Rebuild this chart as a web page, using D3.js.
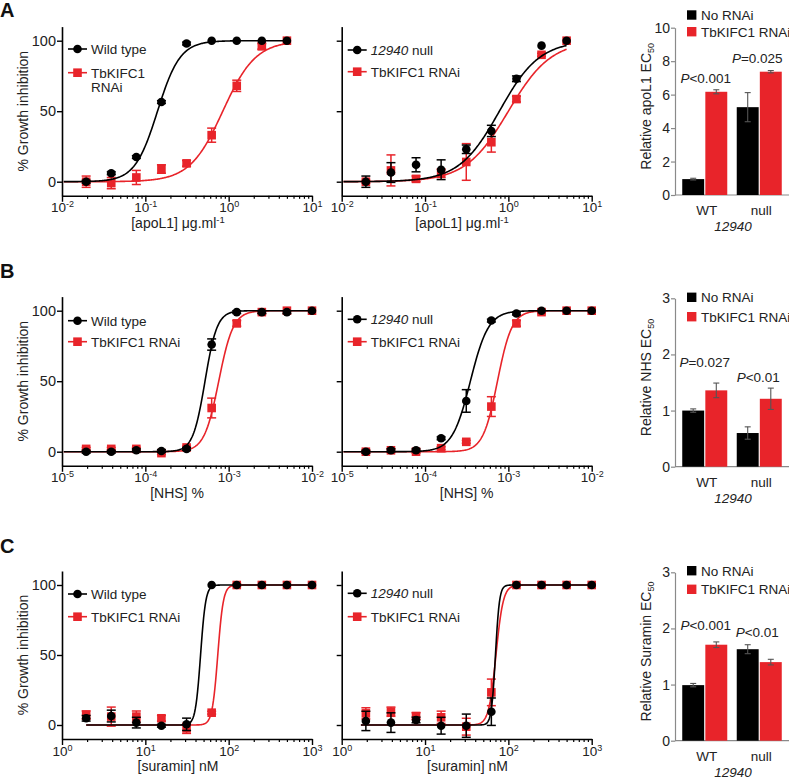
<!DOCTYPE html>
<html>
<head>
<meta charset="utf-8">
<script src="https://cdn.jsdelivr.net/npm/d3@7"></script>
<style>
  html, body { margin: 0; padding: 0; background: #fff; }
  svg { display: block; }
  text { font-family: "Liberation Sans", Arial, sans-serif; }
</style>
</head>
<body>
<svg id="fig" width="789" height="783"></svg>
<script>
// ---------------- DATA ----------------
// Row A: apoL1 (µg/ml)
const concA = [0.0195, 0.039, 0.078, 0.156, 0.3125, 0.625, 1.25, 2.5, 5];
const aWT        = [0, 6, 17.5, 56.5, 98, 100, 100, 100, 100];
const aWTErr     = [1, 1, 1, 1, 1, 0, 0, 0, 0];
const aWTRNAi    = [0, -1, 3, 9, 13, 33, 68, 96, 100];
const aWTRNAiErr = [4, 4, 5, 3, 2, 5, 4, 2, 0];
const aNull        = [0, 6.5, 12, 8.5, 23, 36, 73, 96.5, 100];
const aNullErr     = [4, 7, 5, 7, 3, 4, 2, 0, 0];
const aNullRNAi    = [0, 8, 2, 6, 14, 28, 58.6, 90, 100];
const aNullRNAiErr = [1, 11, 2, 3, 13, 7, 2, 1, 0];
// fits [EC50, Hill]
const aFitWT = [0.14, 3.2], aFitWTRNAi = [0.85, 2.2], aFitNull = [0.78, 1.8], aFitNullRNAi = [1.0, 1.7];
const aTicks = ["-2", "-1", "0", "1"];

// Row B: NHS (%)
const concB = [1.95e-5, 3.9e-5, 7.8e-5, 1.56e-4, 3.125e-4, 6.25e-4, 1.25e-3, 2.5e-3, 5e-3, 1e-2];
const bWT        = [0, 0, 1, 0.5, 2, 76, 99, 99, 99, 100];
const bWTErr     = [1, 1, 1, 1, 1, 4, 1, 1, 1, 0];
const bWTRNAi    = [2, 2, 2, -1, 3, 31, 91, 99, 100, 100];
const bWTRNAiErr = [1, 1, 1, 1, 1, 7, 2, 1, 0, 0];
const bNull        = [0, 1, 1, 9.5, 36, 93, 98, 100, 100, 100];
const bNullErr     = [1, 1, 1, 1, 8, 1, 1, 0, 0, 0];
const bNullRNAi    = [0, 1, 0, 2.5, 7, 32, 91, 99, 100, 100];
const bNullRNAiErr = [1, 1, 1, 1, 1, 7, 2, 1, 0, 0];
const bFitWT = [5.2e-4, 6], bFitWTRNAi = [7.6e-4, 5], bFitNull = [3.5e-4, 4], bFitNullRNAi = [7.4e-4, 5];
const bTicks = ["-5", "-4", "-3", "-2"];

// Row C: suramin (nM)
const concC = [1.95, 3.9, 7.8, 15.6, 31.25, 62.5, 125, 250, 500, 1000];
const cWT        = [4.8, 6.4, 1.7, -0.5, 0.5, 100, 100, 100, 100, 100];
const cWTErr     = [2, 4.2, 3.8, 1, 4.4, 0, 0, 0, 0, 0];
const cWTRNAi    = [7.1, 6, 6, 4.8, -2.4, 8.8, 100, 100, 100, 100];
const cWTRNAiErr = [3, 6.8, 4, 2, 3.6, 1, 1, 0, 0, 0];
const cNull        = [2.9, 1.7, 3.6, -0.5, -0.5, 9.5, 100, 100, 100, 100];
const cNullErr     = [6.9, 7, 2, 6, 8.3, 9.8, 0, 0, 0, 0];
const cNullRNAi    = [8.3, 9.5, 6.4, 5.5, -1.2, 23.3, 100, 100, 100, 100];
const cNullRNAiErr = [4, 3.3, 2.4, 4.4, 6, 9.5, 0, 0, 0, 0];
const cFitWT = [46, 14], cFitWTRNAi = [74, 13], cFitNull = [70, 18], cFitNullRNAi = [71, 10];
const cTicks = ["0", "1", "2", "3"];

// Bar charts: relative EC50
const barGroups = ["WT", "null"];
const aBarNo = [0.95, 5.25], aBarNoErr = [0.05, 0.87], aBarRNAi = [6.17, 7.37], aBarRNAiErr = [0.12, 0.07];
const bBarNo = [1.0, 0.6],   bBarNoErr = [0.03, 0.11], bBarRNAi = [1.36, 1.21], bBarRNAiErr = [0.13, 0.19];
const cBarNo = [0.99, 1.63], cBarNoErr = [0.03, 0.08], cBarRNAi = [1.71, 1.40], cBarRNAiErr = [0.05, 0.05];
const aP = [["<0.001"], ["=0.025"]];
const bP = [["=0.027"], ["<0.01"]];
const cP = [["<0.001"], ["<0.01"]];

// ---------------- STYLE ----------------
const RED = "#e8242a";
const BLACK = "#000";
const svg = d3.select("#fig");
svg.append("rect").attr("width", 789).attr("height", 783).attr("fill", "#fff");

function hill(x, p) { return 100 / (1 + Math.pow(p[0] / x, p[1])); }

function curvePanel(cfg) {
  const g = svg.append("g");
  const x = d3.scaleLog().domain([Math.pow(10, cfg.d0), Math.pow(10, cfg.d0 + 3)]).range([cfg.x0, cfg.x0 + 250]);
  const y = d3.scaleLinear().domain([-10, 110]).range([cfg.yb, cfg.yb - 120 * cfg.k]);
  const yAxisBottom = y(-10);

  // minor ticks
  const minors = [];
  for (let d = cfg.d0; d < cfg.d0 + 3; d++) for (let m = 2; m <= 9; m++) minors.push(m * Math.pow(10, d));
  const gMinor = g.append("g").attr("transform", `translate(0,${yAxisBottom})`)
    .call(d3.axisBottom(x).tickValues(minors).tickSize(3).tickSizeOuter(0).tickFormat(""));
  gMinor.select(".domain").remove();
  gMinor.selectAll("line").attr("stroke", "#000").attr("stroke-width", 1.2);
  const majors = d3.range(cfg.d0, cfg.d0 + 4).map(d => Math.pow(10, d));
  const gMajor = g.append("g").attr("transform", `translate(0,${yAxisBottom})`)
    .call(d3.axisBottom(x).tickValues(majors).tickSize(6).tickSizeOuter(0).tickFormat(""));
  gMajor.select(".domain").attr("stroke", "#000").attr("stroke-width", 1.6);
  gMajor.selectAll("line").attr("stroke", "#000").attr("stroke-width", 1.4);
  gMajor.selectAll(".tick").each(function (d, i) {
    const t = d3.select(this).append("text").attr("y", 16.5).attr("fill", "#222")
      .attr("text-anchor", "middle").attr("font-size", 13.5).text("10");
    t.append("tspan").attr("dy", -5).attr("font-size", 9).text(cfg.ticks[i]);
  });

  const gY = g.append("g").attr("transform", `translate(${cfg.x0},0)`)
    .call(d3.axisLeft(y).tickValues([0, 50, 100]).tickSize(5).tickSizeOuter(0)
      .tickFormat(cfg.yLabels ? d3.format("d") : ""));
  gY.select(".domain").attr("stroke", "#000").attr("stroke-width", 1.6);
  gY.selectAll("line").attr("stroke", "#000").attr("stroke-width", 1.4);
  gY.selectAll("text").attr("font-size", 14.5).attr("fill", "#222").attr("font-family", "Liberation Sans, Arial, sans-serif").attr("x", -6);

  if (cfg.yLabels) {
    g.append("text").attr("transform", `translate(28,${(y(-10) + y(110)) / 2}) rotate(-90)`)
      .attr("text-anchor", "middle").attr("font-size", 14).attr("fill", "#222").text("% Growth inhibition");
  }
  // x title
  const xt = g.append("text").attr("x", cfg.titleX).attr("y", yAxisBottom + 32)
    .attr("text-anchor", "middle").attr("font-size", 14).attr("fill", "#222").text(cfg.title);
  if (cfg.titleSup) xt.append("tspan").attr("dy", -5).attr("font-size", 9.5).text(cfg.titleSup);

  // series: draw red first
  cfg.series.forEach(s => {
    const lo = cfg.curveStart, hi = d3.max(cfg.conc);
    const pts = d3.range(0, 301).map(i => {
      const xv = Math.pow(10, Math.log10(lo) + (Math.log10(hi) - Math.log10(lo)) * i / 300);
      return [x(xv), y(hill(xv, s.fit))];
    });
    g.append("path").attr("d", d3.line()(pts)).attr("fill", "none").attr("stroke", s.color).attr("stroke-width", 1.6);
    const eg = g.append("g").attr("stroke", s.color).attr("stroke-width", 1.5);
    cfg.conc.forEach((c, i) => {
      const e = s.err[i];
      if (!e || e < 0.5) return;
      const cx = x(c), y1 = y(s.vals[i] - e), y2 = y(s.vals[i] + e);
      eg.append("line").attr("x1", cx).attr("x2", cx).attr("y1", y1).attr("y2", y2);
      eg.append("line").attr("x1", cx - 4.5).attr("x2", cx + 4.5).attr("y1", y1).attr("y2", y1);
      eg.append("line").attr("x1", cx - 4.5).attr("x2", cx + 4.5).attr("y1", y2).attr("y2", y2);
    });
    cfg.conc.forEach((c, i) => {
      if (s.shape === "circle") g.append("circle").attr("cx", x(c)).attr("cy", y(s.vals[i])).attr("r", 4.3).attr("fill", s.color);
      else g.append("rect").attr("x", x(c) - 4.3).attr("y", y(s.vals[i]) - 4.3).attr("width", 8.6).attr("height", 8.6).attr("fill", s.color);
    });
  });

  // legend
  cfg.legend.forEach(l => {
    const lx = cfg.x0 + 6;
    g.append("line").attr("x1", lx).attr("x2", lx + 19).attr("y1", l.y).attr("y2", l.y).attr("stroke", l.color).attr("stroke-width", 1.6);
    if (l.shape === "circle") g.append("circle").attr("cx", lx + 9.5).attr("cy", l.y).attr("r", 4.3).attr("fill", l.color);
    else g.append("rect").attr("x", lx + 5.2).attr("y", l.y - 4.3).attr("width", 8.6).attr("height", 8.6).attr("fill", l.color);
    const t = g.append("text").attr("x", lx + 23).attr("y", l.y + 4.8).attr("font-size", 13.5).attr("fill", "#222");
    l.lines.forEach((ln, j) => {
      const ts = t.append("tspan").attr("x", lx + 23).attr("dy", j === 0 ? 0 : 14);
      ln.forEach(part => ts.append("tspan").attr("font-style", part.i ? "italic" : "normal").text(part.t));
    });
  });
}

function barPanel(cfg) {
  const g = svg.append("g");
  const y = d3.scaleLinear().domain([0, cfg.max]).range([cfg.y0, cfg.yTop]);
  const xb = d3.scaleBand().domain(barGroups).range([677.5, 786.5]).paddingInner(0.174).paddingOuter(0.087);
  const xi = d3.scaleBand().domain(["no", "rnai"]).range([0, xb.bandwidth()]).paddingInner(0.05);

  const gY = g.append("g").attr("transform", `translate(675,0)`)
    .call(d3.axisLeft(y).tickValues(cfg.ticks).tickSize(4).tickSizeOuter(0).tickFormat(d3.format("d")));
  gY.select(".domain").attr("stroke", "#8a8a8a").attr("stroke-width", 1.2);
  gY.selectAll("line").attr("stroke", "#8a8a8a").attr("stroke-width", 1.2);
  gY.selectAll("text").attr("font-size", 14).attr("fill", "#222").attr("font-family", "Liberation Sans, Arial, sans-serif").attr("x", -5);
  g.append("line").attr("x1", 675).attr("x2", 789).attr("y1", cfg.y0).attr("y2", cfg.y0).attr("stroke", "#8a8a8a").attr("stroke-width", 1.2);

  const series = [
    { key: "no", vals: cfg.no, err: cfg.noErr, color: "#000" },
    { key: "rnai", vals: cfg.rnai, err: cfg.rnaiErr, color: RED }
  ];
  series.forEach(s => {
    barGroups.forEach((gr, i) => {
      const bx = xb(gr) + xi(s.key), bw = xi.bandwidth();
      g.append("rect").attr("x", bx).attr("y", y(s.vals[i])).attr("width", bw)
        .attr("height", cfg.y0 - y(s.vals[i])).attr("fill", s.color);
      const cx = bx + bw / 2, y1 = y(s.vals[i] - s.err[i]), y2 = y(s.vals[i] + s.err[i]);
      const eg = g.append("g").attr("stroke", "#555").attr("stroke-width", 1.1);
      eg.append("line").attr("x1", cx).attr("x2", cx).attr("y1", y1).attr("y2", y2);
      eg.append("line").attr("x1", cx - 3).attr("x2", cx + 3).attr("y1", y1).attr("y2", y1);
      eg.append("line").attr("x1", cx - 3).attr("x2", cx + 3).attr("y1", y2).attr("y2", y2);
    });
  });
  // P labels
  barGroups.forEach((gr, i) => {
    const t = g.append("text").attr("x", xb(gr) + xb.bandwidth() / 2 + cfg.pdx[i]).attr("y", y(cfg.py[i]))
      .attr("text-anchor", "middle").attr("font-size", 13.5).attr("fill", "#222");
    t.append("tspan").attr("font-style", "italic").text("P");
    t.append("tspan").text(cfg.p[i][0]);
    g.append("text").attr("x", xb(gr) + xb.bandwidth() / 2 + 2).attr("y", cfg.y0 + 20)
      .attr("text-anchor", "middle").attr("font-size", 13.5).attr("fill", "#222").text(gr);
  });
  g.append("text").attr("x", 733).attr("y", cfg.y0 + 36).attr("text-anchor", "middle")
    .attr("font-size", 13.5).attr("font-style", "italic").attr("fill", "#222").text("12940");
  // y title
  const yt = g.append("text").attr("transform", `translate(651,${(cfg.y0 + cfg.yTop) / 2 - 5}) rotate(-90)`)
    .attr("text-anchor", "middle").attr("font-size", 14).attr("fill", "#222").text(cfg.ylab);
  yt.append("tspan").attr("dy", 3).attr("font-size", 9).text("50");
  // legend
  [["No RNAi", "#000"], ["TbKIFC1 RNAi", RED]].forEach((l, j) => {
    const ly = cfg.legY[j];
    g.append("rect").attr("x", 687).attr("y", ly - 4.7).attr("width", 9.4).attr("height", 9.4).attr("fill", l[1]);
    g.append("text").attr("x", 701).attr("y", ly + 4.8).attr("font-size", 13.5).attr("fill", "#222").text(l[0]);
  });
}

// panel letters
[["A", 17], ["B", 278], ["C", 553]].forEach(p =>
  svg.append("text").attr("x", 0).attr("y", p[1]).attr("font-size", 20).attr("font-weight", "bold").attr("fill", "#111").text(p[0]));

const wtLegend = (ry, red2line) => [
  { y: ry[0], color: BLACK, shape: "circle", lines: [[{ t: "Wild type" }]] },
  { y: ry[1], color: RED, shape: "rect", lines: red2line ? [[{ t: "TbKIFC1" }], [{ t: "RNAi" }]] : [[{ t: "TbKIFC1 RNAi" }]] }
];
const nullLegend = ry => [
  { y: ry[0], color: BLACK, shape: "circle", lines: [[{ t: "12940", i: true }, { t: " null" }]] },
  { y: ry[1], color: RED, shape: "rect", lines: [[{ t: "TbKIFC1 RNAi" }]] }
];

// Row A
curvePanel({ x0: 62, d0: -2, yb: 181.7 + 14.1, k: 1.41, ticks: aTicks, yLabels: true, conc: concA, curveStart: 0.0105,
  title: "[apoL1] μg.ml", titleSup: "-1", titleX: 178,
  series: [{ vals: aWTRNAi, err: aWTRNAiErr, fit: aFitWTRNAi, color: RED, shape: "rect" },
           { vals: aWT, err: aWTErr, fit: aFitWT, color: BLACK, shape: "circle" }],
  legend: wtLegend([49, 72.7], true) });
curvePanel({ x0: 341.7, d0: -2, yb: 181.7 + 14.1, k: 1.41, ticks: aTicks, yLabels: false, conc: concA, curveStart: 0.0105,
  title: "[apoL1] μg.ml", titleSup: "-1", titleX: 462,
  series: [{ vals: aNullRNAi, err: aNullRNAiErr, fit: aFitNullRNAi, color: RED, shape: "rect" },
           { vals: aNull, err: aNullErr, fit: aFitNull, color: BLACK, shape: "circle" }],
  legend: nullLegend([50, 71.7]) });
barPanel({ max: 10, ticks: [0, 2, 4, 6, 8, 10], y0: 195, yTop: 27.7, no: aBarNo, noErr: aBarNoErr, rnai: aBarRNAi, rnaiErr: aBarRNAiErr,
  p: aP, py: [6.69, 7.89], pdx: [1, -2], ylab: "Relative apoL1 EC", legY: [15, 31.7] });

// Row B
curvePanel({ x0: 62, d0: -5, yb: 451.7 + 14.1, k: 1.41, ticks: bTicks, yLabels: true, conc: concB, curveStart: 1.05e-5,
  title: "[NHS] %", titleX: 177,
  series: [{ vals: bWTRNAi, err: bWTRNAiErr, fit: bFitWTRNAi, color: RED, shape: "rect" },
           { vals: bWT, err: bWTErr, fit: bFitWT, color: BLACK, shape: "circle" }],
  legend: wtLegend([320.7, 341.7], false) });
curvePanel({ x0: 341.7, d0: -5, yb: 451.7 + 14.1, k: 1.41, ticks: bTicks, yLabels: false, conc: concB, curveStart: 1.05e-5,
  title: "[NHS] %", titleX: 466.7,
  series: [{ vals: bNullRNAi, err: bNullRNAiErr, fit: bFitNullRNAi, color: RED, shape: "rect" },
           { vals: bNull, err: bNullErr, fit: bFitNull, color: BLACK, shape: "circle" }],
  legend: nullLegend([319.3, 341.7]) });
barPanel({ max: 3, ticks: [0, 1, 2, 3], y0: 466.7, yTop: 298.3, no: bBarNo, noErr: bBarNoErr, rnai: bBarRNAi, rnaiErr: bBarRNAiErr,
  p: bP, py: [1.77, 1.515], pdx: [0, -1], ylab: "Relative NHS EC", legY: [297.3, 316.7] });

// Row C
curvePanel({ x0: 62, d0: 0, yb: 725 + 14, k: 1.40, ticks: cTicks, yLabels: true, conc: concC, curveStart: 1.95,
  title: "[suramin] nM", titleX: 178,
  series: [{ vals: cWTRNAi, err: cWTRNAiErr, fit: cFitWTRNAi, color: RED, shape: "rect" },
           { vals: cWT, err: cWTErr, fit: cFitWT, color: BLACK, shape: "circle" }],
  legend: wtLegend([594, 616.7], false) });
curvePanel({ x0: 341.7, d0: 0, yb: 725 + 14, k: 1.40, ticks: cTicks, yLabels: false, conc: concC, curveStart: 1.7,
  title: "[suramin] nM", titleX: 467.5,
  series: [{ vals: cNullRNAi, err: cNullRNAiErr, fit: cFitNullRNAi, color: RED, shape: "rect" },
           { vals: cNull, err: cNullErr, fit: cFitNull, color: BLACK, shape: "circle" }],
  legend: nullLegend([593.3, 616.7]) });
barPanel({ max: 3, ticks: [0, 1, 2, 3], y0: 740.7, yTop: 572.3, no: cBarNo, noErr: cBarNoErr, rnai: cBarRNAi, rnaiErr: cBarRNAiErr,
  p: cP, py: [1.97, 1.85], pdx: [1, -2], ylab: "Relative Suramin EC", legY: [570.7, 589.3] });
</script>
</body>
</html>
